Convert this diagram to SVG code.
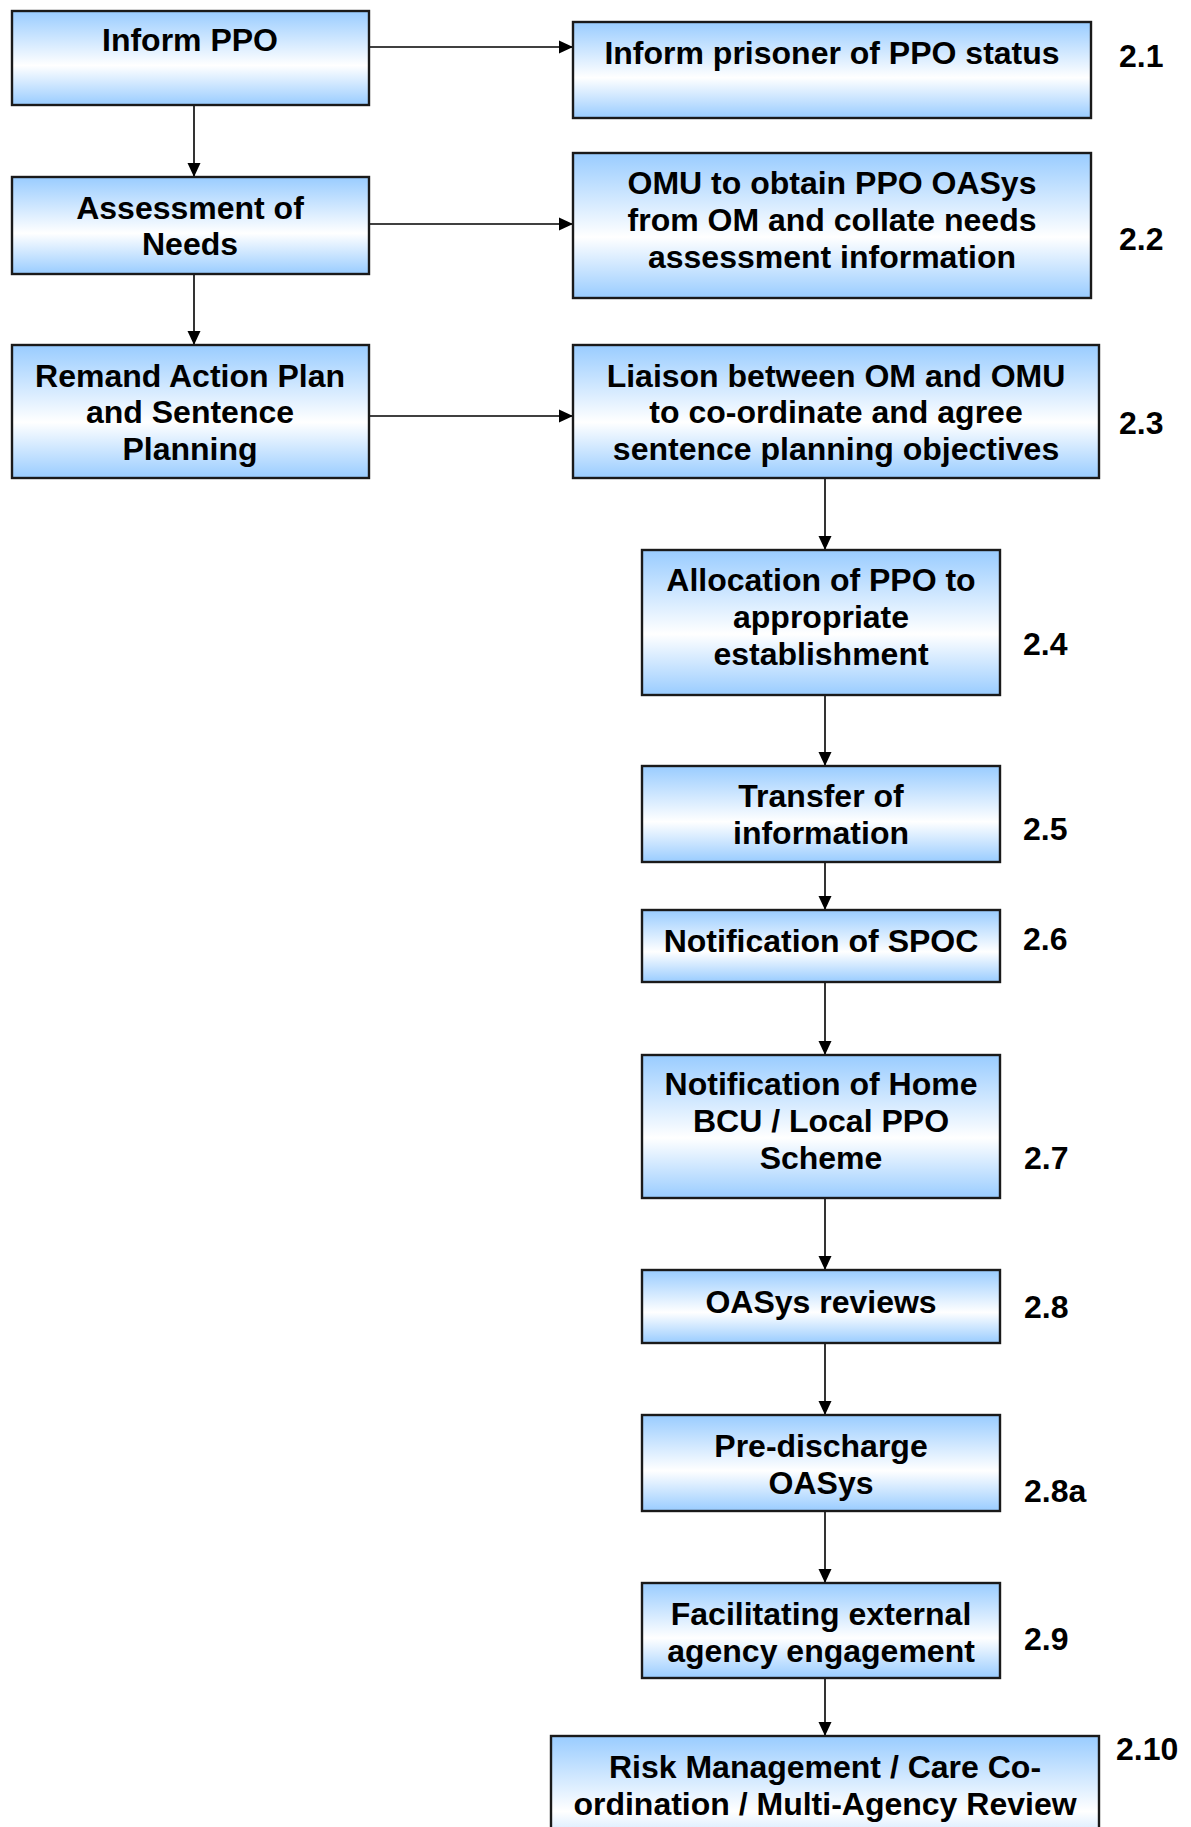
<svg xmlns="http://www.w3.org/2000/svg" width="1191" height="1827" viewBox="0 0 1191 1827">
<defs>
<linearGradient id="g" x1="0" y1="0" x2="0" y2="1">
<stop offset="0" stop-color="#99CCFF"/>
<stop offset="0.58" stop-color="#FFFFFF"/>
<stop offset="1" stop-color="#99CCFF"/>
</linearGradient>
<marker id="ah" viewBox="0 0 14 14" refX="14" refY="7" markerWidth="14" markerHeight="14" markerUnits="userSpaceOnUse" orient="auto">
<path d="M0,0.5 L14,7 L0,13.5 Z" fill="#000"/>
</marker>
<style>
.box{fill:url(#g);stroke:#1a1a1a;stroke-width:2.4}
.t{font-family:"Liberation Sans",Arial,sans-serif;font-weight:bold;font-size:32px;fill:#000;text-anchor:middle}
.n{font-family:"Liberation Sans",Arial,sans-serif;font-weight:bold;font-size:32px;fill:#000}
.c{stroke:#000;stroke-width:1.6;fill:none;marker-end:url(#ah)}
</style>
</defs>
<rect width="1191" height="1827" fill="#fff"/>
<g id="connectors">
<line class="c" x1="370" y1="47" x2="573" y2="47"/>
<line class="c" x1="370" y1="224" x2="573" y2="224"/>
<line class="c" x1="370" y1="416" x2="573" y2="416"/>
<line class="c" x1="194" y1="106" x2="194" y2="177"/>
<line class="c" x1="194" y1="274" x2="194" y2="345"/>
<line class="c" x1="825" y1="479" x2="825" y2="550"/>
<line class="c" x1="825" y1="696" x2="825" y2="766"/>
<line class="c" x1="825" y1="863" x2="825" y2="910"/>
<line class="c" x1="825" y1="983" x2="825" y2="1055"/>
<line class="c" x1="825" y1="1199" x2="825" y2="1270"/>
<line class="c" x1="825" y1="1344" x2="825" y2="1415"/>
<line class="c" x1="825" y1="1512" x2="825" y2="1583"/>
<line class="c" x1="825" y1="1679" x2="825" y2="1736"/>
</g>
<g id="inform-ppo">
<rect class="box" x="12" y="11" width="357" height="94"/>
<text class="t" x="190" y="51">Inform PPO</text>
</g>
<g id="assessment">
<rect class="box" x="12" y="177" width="357" height="97"/>
<text class="t" x="190" y="219">Assessment of</text>
<text class="t" x="190" y="255">Needs</text>
</g>
<g id="remand">
<rect class="box" x="12" y="345" width="357" height="133"/>
<text class="t" x="190" y="387">Remand Action Plan</text>
<text class="t" x="190" y="423">and Sentence</text>
<text class="t" x="190" y="460">Planning</text>
</g>
<g id="n21">
<rect class="box" x="573" y="22" width="518" height="96"/>
<text class="t" x="832" y="64">Inform prisoner of PPO status</text>
<text class="n" x="1119" y="67">2.1</text>
</g>
<g id="n22">
<rect class="box" x="573" y="153" width="518" height="145"/>
<text class="t" x="832" y="194">OMU to obtain PPO OASys</text>
<text class="t" x="832" y="231">from OM and collate needs</text>
<text class="t" x="832" y="268">assessment information</text>
<text class="n" x="1119" y="250">2.2</text>
</g>
<g id="n23">
<rect class="box" x="573" y="345" width="526" height="133"/>
<text class="t" x="836" y="387">Liaison between OM and OMU</text>
<text class="t" x="836" y="423">to co-ordinate and agree</text>
<text class="t" x="836" y="460">sentence planning objectives</text>
<text class="n" x="1119" y="434">2.3</text>
</g>
<g id="n24">
<rect class="box" x="642" y="550" width="358" height="145"/>
<text class="t" x="821" y="591">Allocation of PPO to</text>
<text class="t" x="821" y="628">appropriate</text>
<text class="t" x="821" y="665">establishment</text>
<text class="n" x="1023" y="655">2.4</text>
</g>
<g id="n25">
<rect class="box" x="642" y="766" width="358" height="96"/>
<text class="t" x="821" y="807">Transfer of</text>
<text class="t" x="821" y="844">information</text>
<text class="n" x="1023" y="840">2.5</text>
</g>
<g id="n26">
<rect class="box" x="642" y="910" width="358" height="72"/>
<text class="t" x="821" y="952">Notification of SPOC</text>
<text class="n" x="1023" y="950">2.6</text>
</g>
<g id="n27">
<rect class="box" x="642" y="1055" width="358" height="143"/>
<text class="t" x="821" y="1095">Notification of Home</text>
<text class="t" x="821" y="1132">BCU / Local PPO</text>
<text class="t" x="821" y="1169">Scheme</text>
<text class="n" x="1024" y="1169">2.7</text>
</g>
<g id="n28">
<rect class="box" x="642" y="1270" width="358" height="73"/>
<text class="t" x="821" y="1313">OASys reviews</text>
<text class="n" x="1024" y="1318">2.8</text>
</g>
<g id="n28a">
<rect class="box" x="642" y="1415" width="358" height="96"/>
<text class="t" x="821" y="1457">Pre-discharge</text>
<text class="t" x="821" y="1494">OASys</text>
<text class="n" x="1024" y="1502">2.8a</text>
</g>
<g id="n29">
<rect class="box" x="642" y="1583" width="358" height="95"/>
<text class="t" x="821" y="1625">Facilitating external</text>
<text class="t" x="821" y="1662">agency engagement</text>
<text class="n" x="1024" y="1650">2.9</text>
</g>
<g id="n210">
<rect class="box" x="551" y="1736" width="548" height="130"/>
<text class="t" x="825" y="1778">Risk Management / Care Co-</text>
<text class="t" x="825" y="1815">ordination / Multi-Agency Review</text>
<text class="n" x="1116" y="1760">2.10</text>
</g>
</svg>
